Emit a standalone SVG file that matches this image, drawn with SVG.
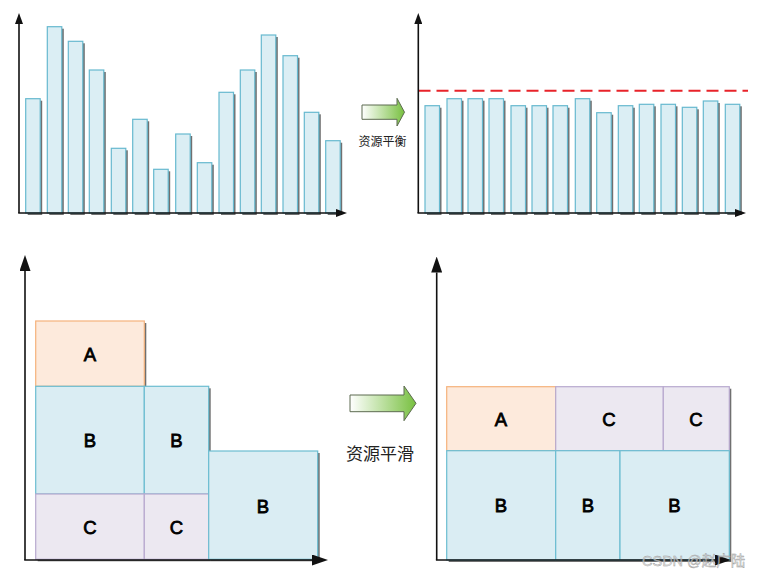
<svg xmlns="http://www.w3.org/2000/svg" width="757" height="578" viewBox="0 0 757 578">
<defs>
<style>
.bar{fill:#dbeef4;stroke:#67b9cf;stroke-width:1.2}
.sh{fill:#707070}
.axis{stroke:#111;stroke-width:1.6;fill:none}
.blue{fill:#daedf3;stroke:#6cbdd1;stroke-width:1.2}
.org{fill:#fdeadc;stroke:#f6b27c;stroke-width:1.2}
.pur{fill:#ece8f1;stroke:#b8a9cf;stroke-width:1.2}
.lbl{font-family:"Liberation Sans",Arial,sans-serif;font-size:18.5px;fill:#000;stroke:#000;stroke-width:0.8;text-anchor:middle}
.cn{font-family:"Noto Sans CJK SC","Liberation Sans",sans-serif;fill:#222;text-anchor:middle}
.garrow{fill:url(#gg);stroke:#5d6b50;stroke-width:1}
</style>
<linearGradient id="gg" x1="0" y1="0" x2="1" y2="0">
<stop offset="0" stop-color="#ffffff"/>
<stop offset="1" stop-color="#78c040"/>
</linearGradient>
<marker id="ahs" markerUnits="userSpaceOnUse" markerWidth="11" markerHeight="8" refX="0" refY="4" orient="auto">
<path d="M0,0 L11,4 L0,8 z" fill="#111"/>
</marker>
<marker id="ahl" markerUnits="userSpaceOnUse" markerWidth="16" markerHeight="11" refX="0" refY="5.5" orient="auto">
<path d="M0,0 L16,5.5 L0,11 z" fill="#111"/>
</marker>
</defs>

<!-- Top-left chart -->
<g id="chart1-bars">
<g id="b1-1"><rect class="sh" x="27.7" y="100.7" width="14.5" height="114.3"/><rect class="bar" x="25.7" y="98.7" width="14.5" height="114.3"/></g>
<g id="b1-2"><rect class="sh" x="49.3" y="28.7" width="14.5" height="186.3"/><rect class="bar" x="47.3" y="26.7" width="14.5" height="186.3"/></g>
<g id="b1-3"><rect class="sh" x="70.3" y="43.3" width="14.5" height="171.7"/><rect class="bar" x="68.3" y="41.3" width="14.5" height="171.7"/></g>
<g id="b1-4"><rect class="sh" x="91.3" y="72" width="14.5" height="143"/><rect class="bar" x="89.3" y="70" width="14.5" height="143"/></g>
<g id="b1-5"><rect class="sh" x="113.3" y="150.3" width="14.5" height="64.7"/><rect class="bar" x="111.3" y="148.3" width="14.5" height="64.7"/></g>
<g id="b1-6"><rect class="sh" x="134.7" y="121.3" width="14.5" height="93.7"/><rect class="bar" x="132.7" y="119.3" width="14.5" height="93.7"/></g>
<g id="b1-7"><rect class="sh" x="155.7" y="171.3" width="14.5" height="43.7"/><rect class="bar" x="153.7" y="169.3" width="14.5" height="43.7"/></g>
<g id="b1-8"><rect class="sh" x="177.7" y="136" width="14.5" height="79"/><rect class="bar" x="175.7" y="134" width="14.5" height="79"/></g>
<g id="b1-9"><rect class="sh" x="199.3" y="164.7" width="14.5" height="50.3"/><rect class="bar" x="197.3" y="162.7" width="14.5" height="50.3"/></g>
<g id="b1-10"><rect class="sh" x="221" y="94.3" width="14.5" height="120.7"/><rect class="bar" x="219" y="92.3" width="14.5" height="120.7"/></g>
<g id="b1-11"><rect class="sh" x="242.3" y="72" width="14.5" height="143"/><rect class="bar" x="240.3" y="70" width="14.5" height="143"/></g>
<g id="b1-12"><rect class="sh" x="263.3" y="37" width="14.5" height="178"/><rect class="bar" x="261.3" y="35" width="14.5" height="178"/></g>
<g id="b1-13"><rect class="sh" x="285" y="57.7" width="14.5" height="157.3"/><rect class="bar" x="283" y="55.7" width="14.5" height="157.3"/></g>
<g id="b1-14"><rect class="sh" x="306.3" y="114.3" width="14.5" height="100.7"/><rect class="bar" x="304.3" y="112.3" width="14.5" height="100.7"/></g>
<g id="b1-15"><rect class="sh" x="327.7" y="142.7" width="14.5" height="72.3"/><rect class="bar" x="325.7" y="140.7" width="14.5" height="72.3"/></g>
</g>

<!-- Top-right chart -->
<g id="chart2-bars">
<g id="b2-1"><rect class="sh" x="427" y="107.7" width="14.5" height="107.3"/><rect class="bar" x="425" y="105.7" width="14.5" height="107.3"/></g>
<g id="b2-2"><rect class="sh" x="449" y="100.7" width="14.5" height="114.3"/><rect class="bar" x="447" y="98.7" width="14.5" height="114.3"/></g>
<g id="b2-3"><rect class="sh" x="470" y="100.7" width="14.5" height="114.3"/><rect class="bar" x="468" y="98.7" width="14.5" height="114.3"/></g>
<g id="b2-4"><rect class="sh" x="491" y="100.7" width="14.5" height="114.3"/><rect class="bar" x="489" y="98.7" width="14.5" height="114.3"/></g>
<g id="b2-5"><rect class="sh" x="513" y="107.7" width="14.5" height="107.3"/><rect class="bar" x="511" y="105.7" width="14.5" height="107.3"/></g>
<g id="b2-6"><rect class="sh" x="534" y="107.7" width="14.5" height="107.3"/><rect class="bar" x="532" y="105.7" width="14.5" height="107.3"/></g>
<g id="b2-7"><rect class="sh" x="555" y="107.7" width="14.5" height="107.3"/><rect class="bar" x="553" y="105.7" width="14.5" height="107.3"/></g>
<g id="b2-8"><rect class="sh" x="577.3" y="100.7" width="14.5" height="114.3"/><rect class="bar" x="575.3" y="98.7" width="14.5" height="114.3"/></g>
<g id="b2-9"><rect class="sh" x="598.7" y="114.7" width="14.5" height="100.3"/><rect class="bar" x="596.7" y="112.7" width="14.5" height="100.3"/></g>
<g id="b2-10"><rect class="sh" x="620.3" y="107.7" width="14.5" height="107.3"/><rect class="bar" x="618.3" y="105.7" width="14.5" height="107.3"/></g>
<g id="b2-11"><rect class="sh" x="641.3" y="106.3" width="14.5" height="108.7"/><rect class="bar" x="639.3" y="104.3" width="14.5" height="108.7"/></g>
<g id="b2-12"><rect class="sh" x="663" y="106.3" width="14.5" height="108.7"/><rect class="bar" x="661" y="104.3" width="14.5" height="108.7"/></g>
<g id="b2-13"><rect class="sh" x="684.3" y="109.3" width="14.5" height="105.7"/><rect class="bar" x="682.3" y="107.3" width="14.5" height="105.7"/></g>
<g id="b2-14"><rect class="sh" x="705.3" y="103" width="14.5" height="112"/><rect class="bar" x="703.3" y="101" width="14.5" height="112"/></g>
<g id="b2-15"><rect class="sh" x="727.3" y="106.3" width="14.5" height="108.7"/><rect class="bar" x="725.3" y="104.3" width="14.5" height="108.7"/></g>
</g>
<g id="avg-line">
<line x1="418.5" y1="90.7" x2="748" y2="90.7" stroke="#e8232a" stroke-width="2" stroke-dasharray="12 6"/>
</g>

<!-- Bottom-left shadows -->
<g id="shadows-bl">
<rect class="sh" x="37.7" y="323" width="108.6" height="65"/>
<rect class="sh" x="37.7" y="388.3" width="173" height="173"/>
<rect class="sh" x="210.7" y="453" width="109" height="108.3"/>
</g>
<g id="A-left"><rect class="org" x="35.7" y="321" width="108.6" height="65.3"/><text class="lbl" x="90" y="360.5">A</text></g>
<g id="B1-left"><rect class="blue" x="35.7" y="386.3" width="108.6" height="107.7"/><text class="lbl" x="90" y="446.5">B</text></g>
<g id="B2-left"><rect class="blue" x="144.3" y="386.3" width="64.4" height="107.7"/><text class="lbl" x="176.5" y="446.5">B</text></g>
<g id="C1-left"><rect class="pur" x="35.7" y="494" width="108.6" height="65.3"/><text class="lbl" x="90" y="533.5">C</text></g>
<g id="C2-left"><rect class="pur" x="144.3" y="494" width="64.4" height="65.3"/><text class="lbl" x="176.5" y="533.5">C</text></g>
<g id="B3-left"><rect class="blue" x="208.7" y="451" width="109" height="108.3"/><text class="lbl" x="263" y="512.5">B</text></g>

<!-- Bottom-right shadows -->
<g id="shadows-br">
<rect class="sh" x="448.7" y="388.7" width="282.6" height="173.3"/>
</g>
<g id="A-right"><rect class="org" x="446.7" y="386.7" width="109" height="64"/><text class="lbl" x="501" y="425.5">A</text></g>
<g id="C1-right"><rect class="pur" x="555.7" y="386.7" width="107.6" height="64"/><text class="lbl" x="609" y="425.5">C</text></g>
<g id="C2-right"><rect class="pur" x="663.3" y="386.7" width="66" height="64"/><text class="lbl" x="696" y="425.5">C</text></g>
<g id="B1-right"><rect class="blue" x="446.7" y="450.7" width="109" height="109.3"/><text class="lbl" x="501" y="511.5">B</text></g>
<g id="B2-right"><rect class="blue" x="555.7" y="450.7" width="64.3" height="109.3"/><text class="lbl" x="588" y="511.5">B</text></g>
<g id="B3-right"><rect class="blue" x="620" y="450.7" width="109.3" height="109.3"/><text class="lbl" x="674.5" y="511.5">B</text></g>

<!-- Transition arrows -->
<g id="arrow-balance">
<path class="garrow" d="M362,105 L397,105 L397,98.3 L404.5,112.2 L397,126 L397,119.3 L362,119.3 z"/>
<text class="cn" x="382.5" y="146" font-size="12">资源平衡</text>
</g>
<g id="arrow-smooth">
<path class="garrow" d="M350,395 L404,395 L404,386 L416,403.3 L404,420.7 L404,411.7 L350,411.7 z"/>
<text class="cn" x="380" y="460" font-size="17">资源平滑</text>
</g>

<!-- Axes -->
<g id="connectors">
<line class="axis" x1="19" y1="213" x2="19" y2="24" marker-end="url(#ahs)"/>
<line class="axis" x1="18.2" y1="213" x2="336" y2="213" marker-end="url(#ahs)"/>
<line class="axis" x1="418.3" y1="213" x2="418.3" y2="24" marker-end="url(#ahs)"/>
<line class="axis" x1="417.5" y1="213" x2="735" y2="213" marker-end="url(#ahs)"/>
<line class="axis" x1="25" y1="560" x2="25" y2="271" marker-end="url(#ahl)"/>
<line class="axis" x1="24.2" y1="560" x2="312" y2="560" marker-end="url(#ahl)"/>
<line class="axis" x1="436.7" y1="560" x2="436.7" y2="272.5" marker-end="url(#ahl)"/>
<line class="axis" x1="435.9" y1="560" x2="715" y2="560" marker-end="url(#ahl)"/>
</g>

<g id="watermark">
<text x="642" y="566" font-family="'Liberation Sans','Noto Sans CJK SC',sans-serif" font-size="14.5" fill="#d8d8d8" fill-opacity="0.7" stroke="#999" stroke-width="0.4">CSDN @赵广陆</text>
</g>
</svg>
